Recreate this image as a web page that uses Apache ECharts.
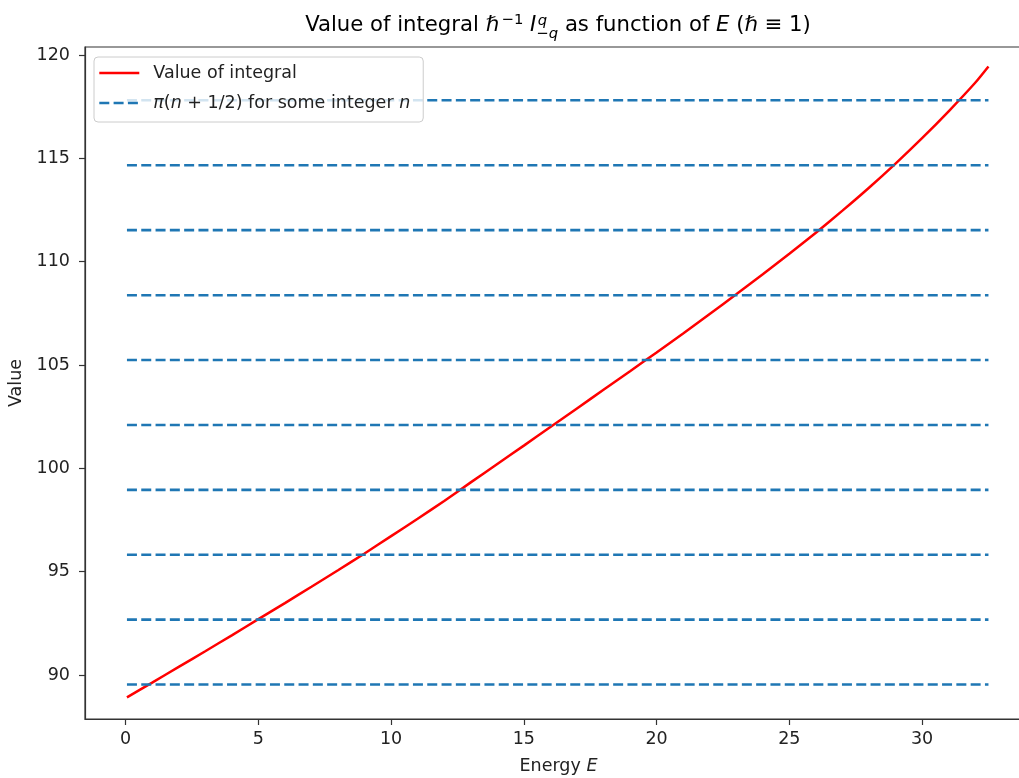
<!DOCTYPE html>
<html><head><meta charset="utf-8">
<script src="https://cdn.jsdelivr.net/npm/echarts@6/dist/echarts.min.js"></script>
<style>html,body{margin:0;padding:0;background:#fff}#c{width:1019px;height:778px}</style>
</head><body><div id="c"></div>
<script>
// ---- data ----
const energy = [0.05, 1, 2, 3, 4, 5, 6, 7, 8, 9, 10, 11, 12, 13, 14, 15, 16, 17, 18, 19, 20,
  21, 22, 23, 24, 25, 26, 27, 28, 29, 30, 31, 32, 32.5];
const integralValue = [88.92, 89.63, 90.39, 91.15, 91.92, 92.70, 93.48, 94.27, 95.07, 95.88, 96.72,
  97.56, 98.42, 99.32, 100.21, 101.10, 102.00, 102.90, 103.80, 104.70, 105.61,
  106.53, 107.47, 108.42, 109.39, 110.38, 111.40, 112.47, 113.58, 114.75, 115.98, 117.28, 118.66, 119.45];
const levelValues = [89.54, 92.68, 95.82, 98.96, 102.10, 105.24, 108.38, 111.53, 114.67, 117.81];
const levelExtent = [0.05, 32.5];
const xTicks = [0, 5, 10, 15, 20, 25, 30];
const yTicks = [90, 95, 100, 105, 110, 115, 120];
const seriesNames = ['Value of integral', 'π(n + 1/2) for some integer n'];

// ---- rendering ----
const FONT = 'DejaVu Sans';
const FS = 17.5;
const TXT = '#222';
const AX = '#333';
const CLEAR = 'rgba(0,0,0,0)';

const chart = echarts.init(document.getElementById('c'), null, {renderer: 'canvas'});

const series = [{
  name: seriesNames[0], type: 'line', symbol: 'none', smooth: 0.2,
  data: energy.map((e, i) => [e, integralValue[i]]),
  lineStyle: {color: '#ff0000', width: 2.5}, itemStyle: {color: CLEAR, borderWidth: 0}, z: 2
}];
levelValues.forEach(v => series.push({
  name: seriesNames[1], type: 'line', symbol: 'none',
  data: [[levelExtent[0], v], [levelExtent[1], v]],
  lineStyle: {color: '#1f77b4', width: 2.6, type: [10, 4.3]}, itemStyle: {color: CLEAR, borderWidth: 0}, z: 3
}));

// title built from measured runs
const mctx = document.createElement('canvas').getContext('2d');
function mw(t, s, it) { mctx.font = (it ? 'italic ' : '') + s + 'px "' + FONT + '"'; return mctx.measureText(t).width; }
const T = 21.2, S = 14.8;
const runs = [
  {t: 'Value of integral ', s: T},
  {t: 'ℏ', s: T, it: true},
  {t: '−1', s: S, dy: -7.6, dx: 2.5, extra: 2.5},
  {t: ' ', s: T},
  {t: 'I', s: T, it: true},
  {t: 'q', s: S, it: true, dy: -7, noAdv: true, dx: 1.5},
  {t: '−', s: S, dy: 5.5},
  {t: 'q', s: S, it: true, dy: 5.5},
  {t: ' as function of ', s: T},
  {t: 'E', s: T, it: true},
  {t: ' (', s: T},
  {t: 'ℏ', s: T, it: true},
  {t: ' ≡ 1)', s: T}
];
let total = 0;
runs.forEach(r => { r.w = mw(r.t, r.s, r.it) + (r.extra || 0); if (!r.noAdv) total += r.w; });
const baseY = 33.3, centerX = 558;
let cx = centerX - total / 2;
const titleEls = [];
runs.forEach(r => {
  titleEls.push({
    type: 'text', x: cx + (r.dx || 0), y: baseY + (r.dy || 0) - 0.346 * r.s, silent: true,
    style: {text: r.t, fill: '#000', font: (r.it ? 'italic ' : '') + r.s + 'px "' + FONT + '"',
      align: 'left', verticalAlign: 'middle'}
  });
  if (!r.noAdv) cx += r.w;
});

chart.setOption({
  animation: false,
  backgroundColor: '#fff',
  grid: {left: 85, top: 47, width: 947, bottom: 59, outerBoundsMode: 'none', containLabel: false,
    show: true, borderColor: AX, borderWidth: 1.2},
  xAxis: {
    type: 'value', min: -1.53, max: 34.14,
    name: 'Energy {i|E}', nameLocation: 'middle', nameGap: 38,
    nameTextStyle: {fontFamily: FONT, fontSize: FS, color: TXT, rich: {i: {fontStyle: 'italic', fontFamily: FONT, fontSize: FS, color: TXT}}},
    axisLine: {show: true, onZero: false, lineStyle: {color: AX, width: 1.2}},
    axisTick: {show: true, length: 6, lineStyle: {color: AX, width: 1.2}, customValues: xTicks},
    axisLabel: {fontFamily: FONT, fontSize: FS, color: TXT, margin: 11, customValues: xTicks, formatter: v => String(v)},
    splitLine: {show: false}
  },
  yAxis: {
    type: 'value', min: 87.87, max: 120.39,
    name: 'Value', nameLocation: 'middle', nameGap: 57,
    nameTextStyle: {fontFamily: FONT, fontSize: FS, color: TXT},
    axisLine: {show: true, onZero: false, lineStyle: {color: AX, width: 1.2}},
    axisTick: {show: true, length: 6, lineStyle: {color: AX, width: 1.2}, customValues: yTicks},
    axisLabel: {fontFamily: FONT, fontSize: FS, color: TXT, margin: 15, customValues: yTicks, formatter: v => String(v)},
    splitLine: {show: false}
  },
  legend: {
    left: 94, top: 57, orient: 'vertical', itemWidth: 40, itemHeight: 14, itemGap: 10,
    padding: [6, 13, 9, 4], backgroundColor: 'rgba(255,255,255,0.8)', borderColor: '#cccccc', borderWidth: 1, borderRadius: 4,
    data: seriesNames,
    itemStyle: {color: CLEAR, borderWidth: 0, borderColor: CLEAR},
    lineStyle: {width: 2.6},
    formatter: name => name === seriesNames[0] ? '{sp| }' + name : '{sp| }{i|π}({i|n} + 1/2) for some integer {i|n}',
    textStyle: {fontFamily: FONT, fontSize: FS, color: TXT, lineHeight: 20,
      rich: {i: {fontStyle: 'italic', fontFamily: FONT, fontSize: FS, color: TXT}, sp: {width: 9}}}
  },
  graphic: titleEls,
  series: series
});
</script>
</body></html>
